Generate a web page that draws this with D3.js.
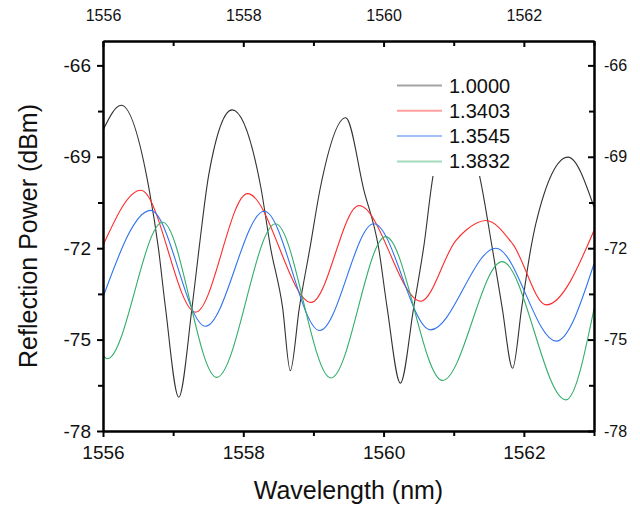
<!DOCTYPE html>
<html>
<head>
<meta charset="utf-8">
<script src="https://cdn.jsdelivr.net/npm/d3@7"></script>
<style>
  body { margin: 0; background: #fff; }
  svg { font-family: "Liberation Sans", Arial, sans-serif; }
  .axis path, .axis line { stroke: #000; stroke-width: 2; }
  .axis text { fill: #111; }
</style>
</head>
<body>
<div id="graphic"></div>
<script>
// series: [wavelength nm, reflection power dBm]
var seriesNames = ['1.0000', '1.3403', '1.3545', '1.3832'];
var seriesColours = ['#333333', '#ff2a2a', '#2f72f0', '#33ad6a'];

var n10000 = [
	[1556.00, -68.13], [1556.26, -67.31], [1556.66, -70.1], [1556.79, -72.0], [1556.89, -73.94],
	[1557.08, -76.89], [1557.27, -73.94], [1557.37, -72.0], [1557.51, -69.56], [1557.84, -67.46],
	[1558.25, -70.0], [1558.39, -72.0], [1558.56, -73.94], [1558.67, -76.02], [1558.80, -73.94],
	[1558.95, -72.0], [1559.10, -70.0], [1559.46, -67.72], [1559.72, -70.1], [1559.93, -72.0],
	[1560.05, -73.94], [1560.24, -76.43], [1560.43, -73.94], [1560.57, -72.0], [1560.73, -69.34],
	[1561.04, -68.0], [1561.34, -69.34], [1561.55, -72.0], [1561.69, -73.94], [1561.84, -75.94],
	[1561.97, -73.94], [1562.10, -72.0], [1562.17, -71.2], [1562.63, -69.01], [1563.00, -70.65]
];
var n13403 = [
	[1556.00, -71.91], [1556.54, -70.10], [1557.32, -74.10], [1558.06, -70.21],
	[1558.97, -73.78], [1559.65, -70.60], [1560.53, -73.74], [1561.03, -71.75],
	[1561.17, -71.42], [1561.46, -71.09], [1561.84, -71.86], [1562.32, -73.86],
	[1563.00, -71.42]
];
var n13545 = [
	[1556.00, -73.61], [1556.68, -70.76], [1557.46, -74.56], [1558.30, -70.79],
	[1559.09, -74.70], [1559.86, -71.20], [1560.67, -74.68], [1561.60, -72.0],
	[1562.46, -75.05], [1563.00, -72.51]
];
var n13832 = [
	[1556.00, -75.52], [1556.06, -75.63], [1556.85, -71.15], [1557.62, -76.24],
	[1558.46, -71.20], [1559.25, -76.26], [1560.03, -71.62], [1560.84, -76.34],
	[1561.69, -72.44], [1562.60, -76.98], [1563.00, -73.99]
];
var allSeries = [n10000, n13403, n13545, n13832];

var xMajor = [1556, 1558, 1560, 1562];
var xMinor = [1557, 1559, 1561, 1563];
var yMajor = [-66, -69, -72, -75, -78];
var yMinor = [-67.5, -70.5, -73.5, -76.5];

var width = 640, height = 506;
var margin = { top: 41, right: 46, bottom: 75, left: 103 };
var chart_width = width - margin.left - margin.right;
var chart_height = height - margin.top - margin.bottom;

var svg = d3.select('#graphic')
	.append('svg')
	.attr('width', width)
	.attr('height', height)
	.append('g')
	.attr('transform', 'translate(' + margin.left + ',' + margin.top + ')');

var x = d3.scaleLinear().domain([1556, 1563]).range([0, chart_width]);
var y = d3.scaleLinear().domain([-78, -65.2]).range([chart_height, 0]);

svg.append('clipPath').attr('id', 'clip')
	.append('rect').attr('width', chart_width).attr('height', chart_height);

var line = d3.line()
	.x((d) => x(d[0]))
	.y((d) => y(d[1]))
	.curve(d3.curveMonotoneX);

svg.append('g').attr('clip-path', 'url(#clip)')
	.selectAll('path')
	.data(allSeries)
	.join('path')
	.attr('fill', 'none')
	.attr('stroke', (d, i) => seriesColours[i])
	.attr('stroke-width', 1.1)
	.attr('d', line);

// legend (white box hides lines under it)
var legend = svg.append('g').attr('transform', 'translate(' + (392 - margin.left) + ',' + (68 - margin.top) + ')');
legend.append('rect').attr('width', 142).attr('height', 108).attr('fill', '#fff');
seriesNames.forEach(function (name, i) {
	var ly = 17.5 + i * 25.3;
	legend.append('line')
		.attr('x1', 5).attr('x2', 50)
		.attr('y1', ly).attr('y2', ly)
		.attr('stroke', seriesColours[i])
		.attr('stroke-opacity', 0.45)
		.attr('stroke-width', 2);
	legend.append('text')
		.attr('x', 57).attr('y', ly + 7)
		.attr('font-size', 20)
		.attr('fill', '#111')
		.text(name);
});

// axes
function styleAxis(g, size) {
	g.attr('class', 'axis').selectAll('text').attr('font-size', size);
}

svg.append('g').attr('transform', 'translate(0,' + chart_height + ')')
	.call(d3.axisBottom(x).tickValues(xMajor).tickFormat(d3.format('d')).tickSize(6).tickSizeOuter(0).tickPadding(8.5))
	.call(styleAxis, 19);
svg.append('g').attr('transform', 'translate(0,' + chart_height + ')')
	.call(d3.axisBottom(x).tickValues(xMinor).tickFormat('').tickSize(5).tickSizeOuter(0))
	.call(styleAxis, 19);

svg.append('g')
	.call(d3.axisTop(x).tickValues(xMajor).tickFormat(d3.format('d')).tickSize(-6).tickSizeOuter(0).tickPadding(20))
	.call(styleAxis, 16);
svg.append('g')
	.call(d3.axisTop(x).tickValues(xMinor).tickFormat('').tickSize(-5).tickSizeOuter(0))
	.call(styleAxis, 16);

svg.append('g')
	.call(d3.axisLeft(y).tickValues(yMajor).tickFormat(d3.format('d')).tickSize(6).tickSizeOuter(0).tickPadding(6))
	.call(styleAxis, 19);
svg.append('g')
	.call(d3.axisLeft(y).tickValues(yMinor).tickFormat('').tickSize(5).tickSizeOuter(0))
	.call(styleAxis, 19);

svg.append('g').attr('transform', 'translate(' + chart_width + ',0)')
	.call(d3.axisRight(y).tickValues(yMajor).tickFormat(d3.format('d')).tickSize(-6).tickSizeOuter(0).tickPadding(10))
	.call(styleAxis, 16);
svg.append('g').attr('transform', 'translate(' + chart_width + ',0)')
	.call(d3.axisRight(y).tickValues(yMinor).tickFormat('').tickSize(-5).tickSizeOuter(0))
	.call(styleAxis, 16);

// minus signs as plain hyphens like the original
svg.selectAll('.axis text').text(function () { return this.textContent.replace('−', '-'); });

// axis titles
svg.append('text')
	.attr('x', chart_width / 2)
	.attr('y', chart_height + 68)
	.attr('text-anchor', 'middle')
	.attr('font-size', 25)
	.attr('fill', '#111')
	.text('Wavelength (nm)');

svg.append('text')
	.attr('transform', 'translate(' + (37 - margin.left) + ',' + chart_height / 2 + ') rotate(-90)')
	.attr('text-anchor', 'middle')
	.attr('font-size', 25)
	.attr('fill', '#111')
	.text('Reflection Power (dBm)');
</script>
</body>
</html>
